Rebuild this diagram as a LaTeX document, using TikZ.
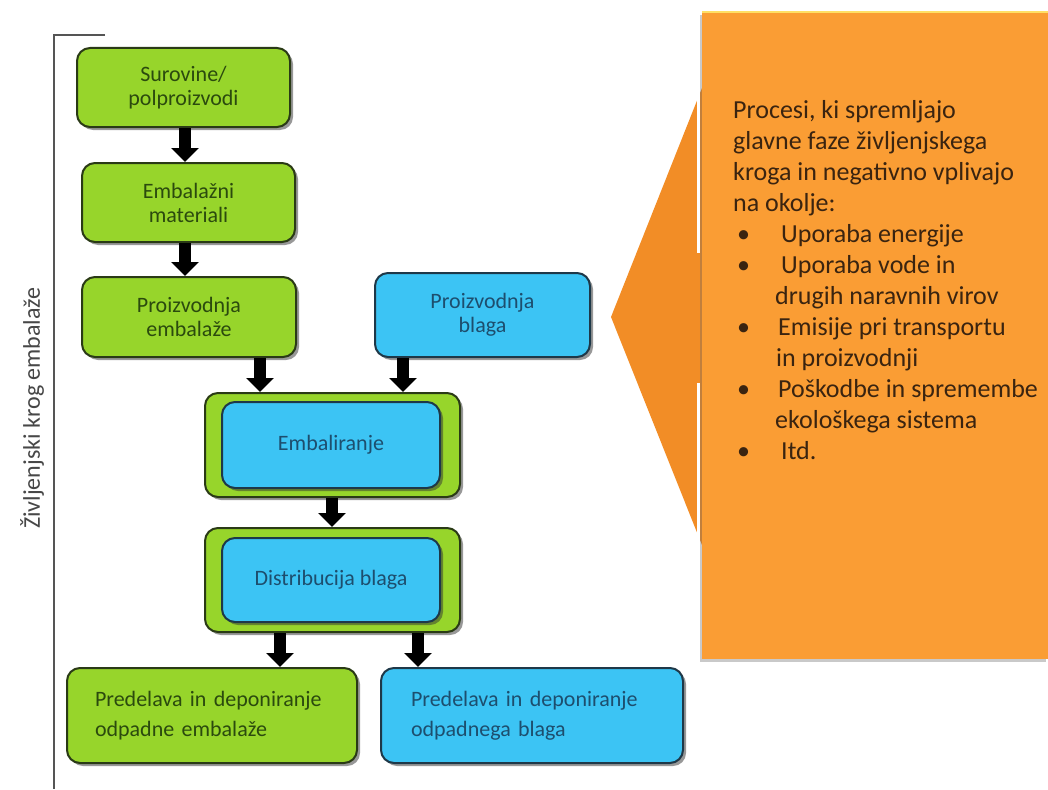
\documentclass[tikz,border=0pt]{standalone}
\usepackage{fontspec}
\setmainfont{Carlito}
\usetikzlibrary{shadows,arrows.meta,calc}
\definecolor{grn}{HTML}{97D52B}
\definecolor{blu}{HTML}{3CC4F4}
\definecolor{org}{HTML}{FA9D34}
\definecolor{orgd}{HTML}{F28D26}
\definecolor{gtext}{HTML}{2B4A0E}
\definecolor{btext}{HTML}{1D4E6E}
\definecolor{otext}{HTML}{3A2410}
\definecolor{gborder}{HTML}{2A3A16}
\definecolor{bborder}{HTML}{1E3848}
\definecolor{brk}{HTML}{555555}
\begin{document}
\begin{tikzpicture}[x=1pt,y=-1pt,
  box/.style={rounded corners=13pt, line width=2pt, align=center, inner sep=0pt,
    drop shadow={shadow xshift=3pt,shadow yshift=-3pt,opacity=.5,fill=black!80},
    font=\fontsize{22}{24}\selectfont},
  gbox/.style={box, fill=grn, draw=gborder, text=gtext},
  bbox/.style={box, fill=blu, draw=bborder, text=btext},
  lowbox/.style={rounded corners=13pt, line width=2pt, align=left, inner ysep=0pt, inner xsep=28pt,
    drop shadow={shadow xshift=3pt,shadow yshift=-3pt,opacity=.5,fill=black!80},
    font=\fontsize{22}{30}\selectfont, minimum height=95pt},
  blk/.style={line width=12pt, -{Triangle[width=27pt,length=14pt]}},
  ln/.style={anchor=base west, inner sep=0pt, text=otext, font=\fontsize{26}{30}\selectfont},
]
\useasboundingbox (0,0) rectangle (1048,789);
\fill[white] (0,0) rectangle (1048,789);

% bracket and label
\draw[brk, line width=1.6pt] (105,35) -- (54,35) -- (54,789);
\node[rotate=90, text=black!72, font=\fontsize{24}{28}\selectfont, inner sep=0pt] (lab) at (32,408) {Življenjski krog embalaže};

% boxes
\node[gbox, minimum width=213pt, minimum height=79pt] (b1) at (183.5,87.5) {Surovine/\\polproizvodi};
\node[gbox, minimum width=213pt, minimum height=79pt] (b2) at (188.5,202.5) {Embalažni\\materiali};
\node[gbox, minimum width=214pt, minimum height=80pt] (b3) at (189,317) {Proizvodnja\\embalaže};
\node[bbox, minimum width=215pt, minimum height=84pt] (b4) at (482.5,315) {Proizvodnja\\blaga};

\node[gbox, minimum width=255pt, minimum height=104pt] (e1) at (332.5,445) {};
\node[bbox, minimum width=218pt, minimum height=86pt] (e2) at (331,445) {Embaliranje};

\node[gbox, minimum width=255pt, minimum height=104pt] (d1) at (332.5,580) {};
\node[bbox, minimum width=218pt, minimum height=84pt] (d2) at (331,580) {Distribucija blaga};

\node[lowbox, fill=grn, draw=gborder, text=gtext, text width=234pt] (g7) at (212,715.5) {Predelava in deponiranje\\odpadne embalaže};
\node[lowbox, fill=blu, draw=bborder, text=btext, text width=242pt, inner xsep=30pt] (b8) at (532,715.5) {Predelava in deponiranje\\odpadnega blaga};

% arrows
\draw[blk] (185,0 |- b1.south) -- (185,0 |- b2.north);
\draw[blk] (185,0 |- b2.south) -- (185,0 |- b3.north);
\draw[blk] (260,0 |- b3.south) -- (260,0 |- e1.north);
\draw[blk] (403,0 |- b4.south) -- (403,0 |- e1.north);
\draw[blk] (332,0 |- e1.south) -- (332,0 |- d1.north);
\draw[blk] (280,0 |- d1.south) -- (280,0 |- g7.north);
\draw[blk] (418,0 |- d1.south) -- (418,0 |- b8.north);

% orange callout
\fill[orgd, drop shadow={shadow xshift=2pt,shadow yshift=-2pt,opacity=.3,fill=black!60}] (704,83) -- (611,317) -- (704,550) -- cycle;
\node[anchor=north west, fill=org, minimum width=346pt, minimum height=647pt, inner sep=0pt,
  drop shadow={shadow xshift=-2pt,shadow yshift=-3pt,opacity=.35,fill=black!60}] (panel) at (702,12) {};
\draw[white, line width=3pt] (698.5,83) -- (698.5,253);
\draw[white, line width=3pt] (698.5,383) -- (698.5,550);
\draw[orange!40!yellow!60, line width=2pt] (panel.north west) -- (panel.north east);

\node[ln] (t1) at (733,118) {Procesi, ki spremljajo};
\node[ln] (t2) at (733,149) {glavne faze življenjskega};
\node[ln] (t3) at (733,180) {kroga in negativno vplivajo};
\node[ln] (t4) at (733,211) {na okolje:};
\node[ln] (u1) at (737,242) {•};
\node[ln] (t5) at (781,242) {Uporaba energije};
\node[ln] (u2) at (737,273) {•};
\node[ln] (t6) at (781,273) {Uporaba vode in};
\node[ln] (t7) at (775,304) {drugih naravnih virov};
\node[ln] (u3) at (737,335) {•};
\node[ln] (t8) at (778,335) {Emisije pri transportu};
\node[ln] (t9) at (776,366) {in proizvodnji};
\node[ln] (u4) at (737,397) {•};
\node[ln] (t10) at (778,397) {Poškodbe in spremembe};
\node[ln] (t11) at (775,428) {ekološkega sistema};
\node[ln] (u5) at (737,459) {•};
\node[ln] (t12) at (781,459) {Itd.};
\end{tikzpicture}
\end{document}
